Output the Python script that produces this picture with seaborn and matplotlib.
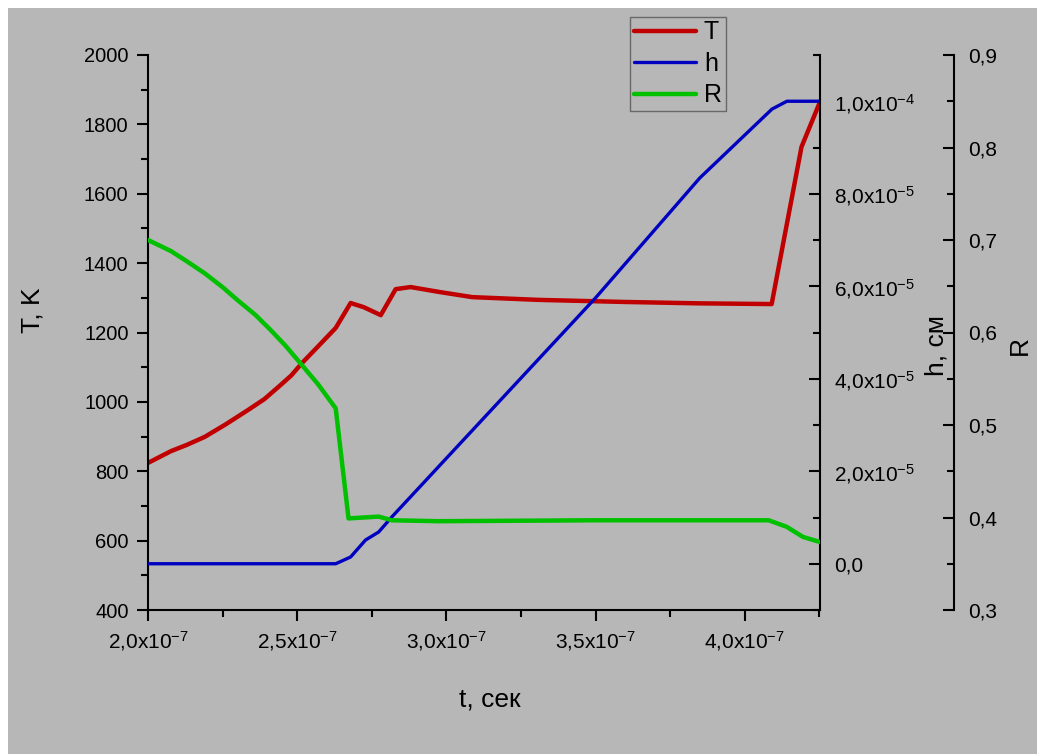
import numpy as np
import pandas as pd
import seaborn as sns
import matplotlib.pyplot as plt
from matplotlib.patches import Rectangle
from matplotlib.lines import Line2D
from matplotlib.ticker import MultipleLocator, FuncFormatter

# ---- dane (czas w jednostkach 1e-7 s) ----
t_T = [2.00, 2.077, 2.13, 2.19, 2.26, 2.336, 2.39, 2.437, 2.48, 2.514, 2.57, 2.629,
       2.679, 2.723, 2.78, 2.83, 2.88, 2.975, 3.086, 3.31, 3.60, 3.85, 4.09, 4.19, 4.252]
T_vals = [824, 858, 876, 899, 935, 977, 1008, 1043, 1076, 1110, 1160, 1213,
          1285, 1273, 1250, 1325, 1331, 1317, 1302, 1294, 1288, 1284, 1282, 1735, 1865]

t_h = [2.00, 2.629, 2.679, 2.729, 2.773, 2.817, 3.50, 3.849, 4.091, 4.141, 4.252]
h_vals = [0.0, 0.0, 0.146, 0.513, 0.686, 1.011, 5.75, 8.34, 9.83, 10.0, 10.0]  # x1e-5 cm

t_R = [2.00, 2.077, 2.13, 2.19, 2.25, 2.30, 2.36, 2.41, 2.46, 2.51, 2.57, 2.629,
       2.672, 2.773, 2.817, 2.975, 3.50, 4.08, 4.14, 4.195, 4.252]
R_vals = [0.700, 0.688, 0.677, 0.664, 0.649, 0.635, 0.619, 0.603, 0.586, 0.567, 0.544, 0.518,
          0.399, 0.401, 0.397, 0.396, 0.397, 0.397, 0.390, 0.379, 0.3735]

df_T = pd.DataFrame({"t": np.array(t_T) * 1e-7, "T": T_vals})
df_h = pd.DataFrame({"t": np.array(t_h) * 1e-7, "h": np.array(h_vals) * 1e-5})
df_R = pd.DataFrame({"t": np.array(t_R) * 1e-7, "R": R_vals})

BG = "#b7b7b7"
RED, BLUE, GREEN = "#c00000", "#0000c0", "#00c000"

sns.set_style("ticks")
plt.rcParams["font.family"] = ["Liberation Sans", "DejaVu Sans"]
plt.rcParams["mathtext.fontset"] = "custom"
plt.rcParams["mathtext.rm"] = "Liberation Sans"
plt.rcParams["mathtext.it"] = "Liberation Sans:italic"
for k in ("text.color", "axes.labelcolor", "xtick.color", "ytick.color"):
    plt.rcParams[k] = "black"

W, H = 1039, 754
fig = plt.figure(figsize=(W / 100, H / 100), dpi=100)
fig.patch.set_facecolor(BG)
ax = fig.add_axes([148 / W, (H - 610) / H, 672 / W, 555 / H])
ax.set_facecolor("none")
axh = ax.twinx()
axr = ax.twinx()
axr.spines["right"].set_position(("outward", 134 * 0.72))

sns.lineplot(data=df_T, x="t", y="T", ax=ax, color=RED, lw=3.2, sort=False, estimator=None)
sns.lineplot(data=df_h, x="t", y="h", ax=axh, color=BLUE, lw=2.4, sort=False, estimator=None)
sns.lineplot(data=df_R, x="t", y="R", ax=axr, color=GREEN, lw=3.2, sort=False, estimator=None)

ax.set_xlim(2.0e-7, 4.252e-7)
ax.set_ylim(400, 2000)
axh.set_ylim(-1.0e-5, 1.1e-4)
axr.set_ylim(0.3, 0.9)

# osie i znaczniki
for a in (ax, axh, axr):
    for s in a.spines.values():
        s.set_visible(False)
        s.set_color("black")
        s.set_linewidth(1.5)
ax.spines["left"].set_visible(True)
ax.spines["bottom"].set_visible(True)
axh.spines["right"].set_visible(True)
axr.spines["right"].set_visible(True)

ax.xaxis.set_major_locator(MultipleLocator(0.5e-7))
ax.xaxis.set_minor_locator(MultipleLocator(0.25e-7))
ax.yaxis.set_major_locator(MultipleLocator(200))
ax.yaxis.set_minor_locator(MultipleLocator(100))
axh.yaxis.set_major_locator(MultipleLocator(2e-5))
axh.yaxis.set_minor_locator(MultipleLocator(1e-5))
axr.yaxis.set_major_locator(MultipleLocator(0.1))
axr.yaxis.set_minor_locator(MultipleLocator(0.05))


def fmt_t(v, pos):
    return f"{v / 1e-7:.1f}".replace(".", ",") + r"x10$^{-7}$"


def fmt_h(v, pos):
    if abs(v) < 1e-12:
        return "0,0"
    e = int(np.floor(np.log10(abs(v)) + 1e-9))
    m = v / 10 ** e
    return f"{m:.1f}".replace(".", ",") + r"x10$^{" + str(e) + "}$"


ax.xaxis.set_major_formatter(FuncFormatter(fmt_t))
axh.yaxis.set_major_formatter(FuncFormatter(fmt_h))
axr.yaxis.set_major_formatter(FuncFormatter(lambda v, p: f"{v:.1f}".replace(".", ",")))

ax.tick_params(axis="y", which="major", direction="out", length=8, width=1.5,
               labelsize=14.5, pad=6)
ax.tick_params(axis="x", which="major", direction="out", length=8, width=1.5,
               labelsize=15, pad=6)
ax.tick_params(axis="both", which="minor", direction="out", length=5, width=1.5)
for a in (axh, axr):
    a.tick_params(axis="y", which="major", direction="in", length=8, width=1.5,
                  labelsize=15, pad=10)
    a.tick_params(axis="y", which="minor", direction="in", length=5, width=1.5)

ax.set_xlabel("t, сек", fontsize=19)
ax.set_ylabel("T, K", fontsize=19)
axh.set_ylabel("h, см", fontsize=19)
axr.set_ylabel("R", fontsize=19)
ax.xaxis.set_label_coords(0.509, -0.14)
ax.yaxis.set_label_coords(-0.154, 0.54)
axh.yaxis.set_label_coords(1.156, 0.477)
axr.yaxis.set_label_coords(1.280, 0.477)

# legenda
handles = [Line2D([], [], color=RED, lw=3.2), Line2D([], [], color=BLUE, lw=2.4),
           Line2D([], [], color=GREEN, lw=3.2)]
leg = fig.legend(handles, ["T", "h", "R"], loc="lower left",
                 bbox_to_anchor=(630 / W, (H - 111) / H), borderaxespad=0,
                 fontsize=18, frameon=True, fancybox=False, handlelength=2.5,
                 handletextpad=0.3, labelspacing=0.3, borderpad=0.15)
leg.get_frame().set_facecolor(BG)
leg.get_frame().set_edgecolor("#555555")
leg.get_frame().set_linewidth(1.0)

# biale marginesy
for x0, y0, w, h in [(0, (H - 8) / H, 1, 8 / H), (0, 0, 8 / W, 1), ((W - 2) / W, 0, 2 / W, 1)]:
    fig.add_artist(Rectangle((x0, y0), w, h, transform=fig.transFigure,
                             facecolor="white", edgecolor="none", zorder=20))

fig.savefig("out.png", dpi=100, facecolor=fig.get_facecolor())
